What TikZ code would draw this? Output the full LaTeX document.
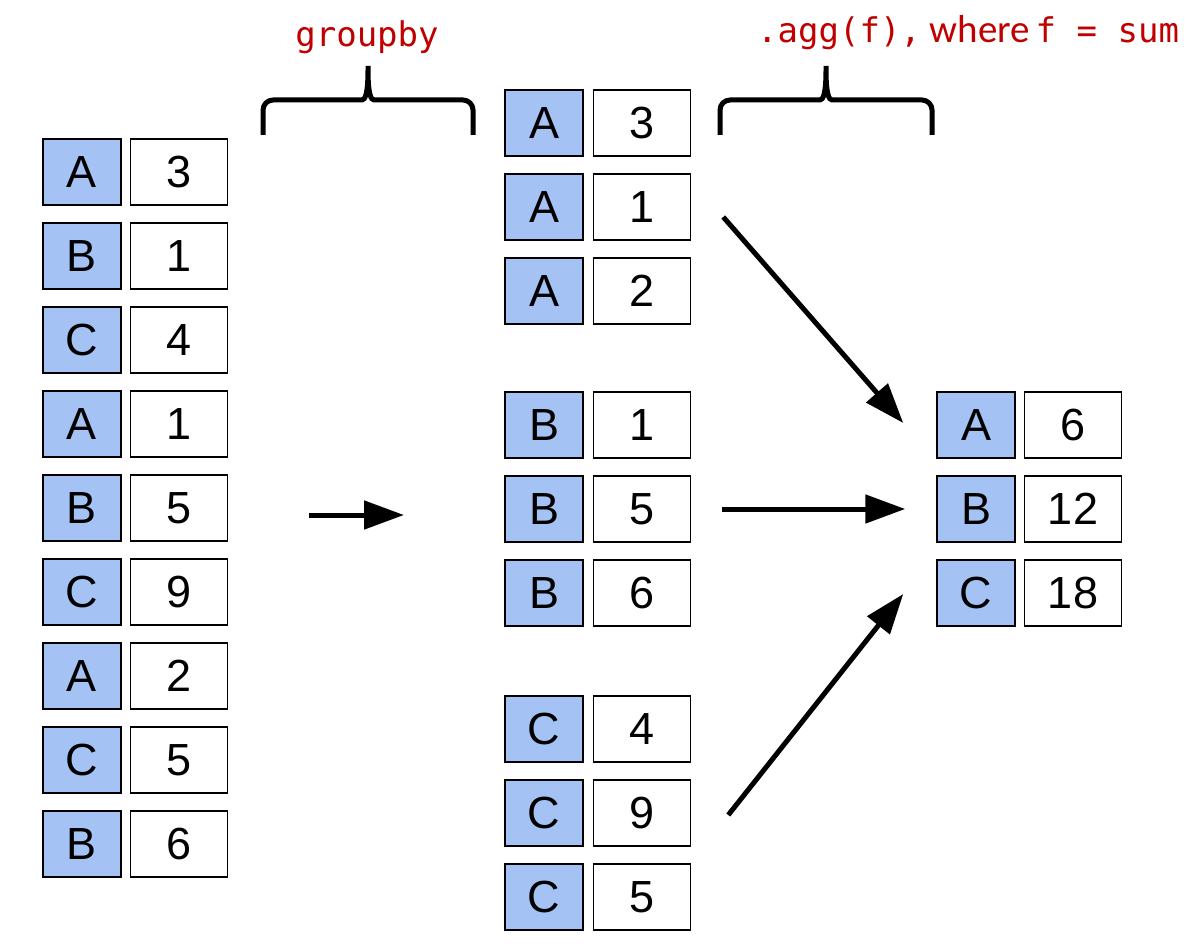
\documentclass[tikz,border=0pt]{standalone}
\usepackage{fontspec}
\setmainfont{Liberation Sans}
\newfontfamily\codefont{DejaVu Sans Mono}
\newfontfamily\notefont{Carlito}
\usetikzlibrary{arrows.meta,positioning}
\definecolor{keyblue}{RGB}{164,194,244}
\definecolor{codered}{RGB}{192,0,0}

\begin{document}
\begin{tikzpicture}[x=1pt,y=-1pt,>={Triangle[length=40pt,width=28pt]},
    cell/.style={draw,line width=1.5pt,minimum height=66pt,inner sep=0pt,font=\fontsize{45}{45}\selectfont},
    keycell/.style={cell,fill=keyblue,minimum width=78pt},
    valcell/.style={cell,fill=white,minimum width=97pt},
    flow/.style={->,line width=5pt},
    bracket/.style={line width=5pt,rounded corners=10pt},
    code/.style={text=codered,font=\codefont\fontsize{34}{34}\selectfont,inner sep=0pt}]
  \useasboundingbox (0,0) rectangle (1188,947);
  % input frame
  \foreach \k/\v [count=\i] in {A/3,B/1,C/4,A/1,B/5,C/9,A/2,C/5,B/6} {
    \node[keycell] (lk\i) at (82,{172+84*(\i-1)}) {\k};
    \node[valcell,right=8pt of lk\i] (lv\i) {\v};
  }
  % grouped rows
  \foreach \k/\v/\y [count=\i] in {A/3/123,A/1/207,A/2/291,B/1/425,B/5/509,B/6/593,C/4/729,C/9/813,C/5/897} {
    \node[keycell] (gk\i) at (544,\y) {\k};
    \node[valcell,right=9pt of gk\i] (gv\i) {\v};
  }
  % result
  \foreach \k/\v/\y [count=\i] in {A/6/425,B/12/509,C/18/593} {
    \node[keycell] (rk\i) at (976,\y) {\k};
    \node[valcell,right=8pt of rk\i] (rv\i) {\v};
  }
  % labels and brackets
  \node[code,anchor=base] (gb) at (367,47) {groupby};
  \node[code,anchor=base west] (agg) at (757,43) {.agg(f),{\notefont\fontsize{39}{39}\selectfont\ where}\,f = sum};
  \draw[bracket] (263,135) |- (352,100) .. controls (365,100) and (368,94) .. (368,60)
    .. controls (368,94) and (371,100) .. (384,100) -| (473,135);
  \draw[bracket] (720,135) |- (810,100) .. controls (823,100) and (826,94) .. (826,60)
    .. controls (826,94) and (829,100) .. (842,100) -| (932,135);
  % arrows
  \coordinate (gin) at (309,515);
  \coordinate (gout) at (404,515);
  \draw[flow] (gin) -- (gout);
  \draw[flow] ([xshift=32pt,yshift=-10pt]gv2.east) -- ([xshift=-33pt,yshift=2pt]rk1.west);
  \draw[flow] ([xshift=31pt]gv5.east) -- ([xshift=-31pt]rk2.west);
  \draw[flow] ([xshift=37pt,yshift=-2pt]gv8.east) -- ([xshift=-33pt,yshift=-1pt]rk3.west);
\end{tikzpicture}
\end{document}
